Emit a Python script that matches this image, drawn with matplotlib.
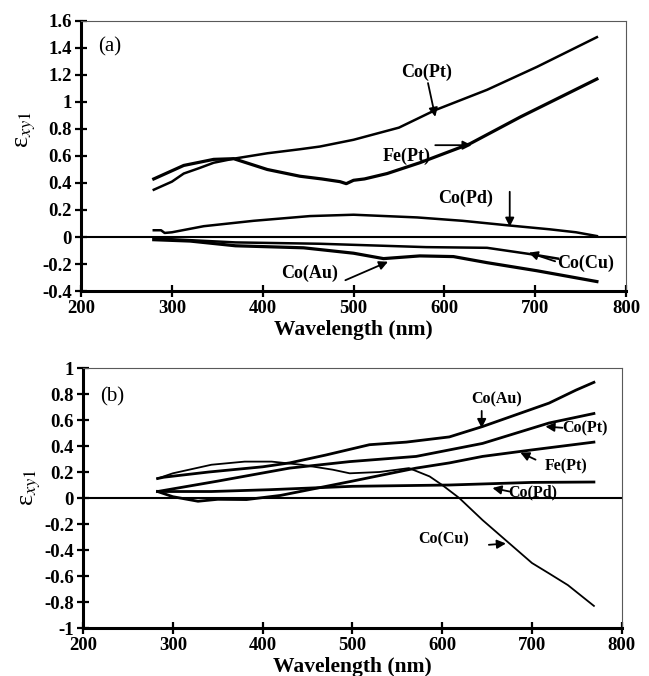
import numpy as np
import matplotlib
matplotlib.use('Agg')
import matplotlib.pyplot as plt
from matplotlib.ticker import FuncFormatter

plt.rcParams['font.family'] = ['Liberation Serif', 'DejaVu Serif']
plt.rcParams['mathtext.fontset'] = 'stix'
plt.rcParams['axes.unicode_minus'] = False

# ---- panel (a) data ----
wl_copt_a = [280, 300, 313, 330, 346, 368, 405, 441, 463, 500, 550, 590, 647, 702, 768]
copt_a = [0.35, 0.41, 0.47, 0.51, 0.55, 0.58, 0.62, 0.65, 0.67, 0.72, 0.81, 0.94, 1.09, 1.26, 1.48]

wl_fept_a = [280, 313, 346, 368, 405, 441, 465, 485, 492, 500, 512, 537, 573, 628, 684, 768]
fept_a = [0.43, 0.53, 0.575, 0.58, 0.50, 0.45, 0.43, 0.41, 0.395, 0.42, 0.43, 0.47, 0.55, 0.69, 0.89, 1.17]

wl_copd_a = [280, 288, 292, 300, 335, 390, 452, 500, 570, 620, 669, 716, 745, 768]
copd_a = [0.05, 0.05, 0.03, 0.035, 0.08, 0.12, 0.155, 0.165, 0.145, 0.12, 0.087, 0.057, 0.035, 0.007]

wl_coau_a = [280, 320, 370, 445, 500, 533, 573, 610, 647, 702, 768]
coau_a = [-0.02, -0.03, -0.065, -0.08, -0.12, -0.16, -0.14, -0.145, -0.19, -0.25, -0.33]

wl_cocu_a = [280, 370, 463, 580, 647, 698, 725]
cocu_a = [-0.01, -0.04, -0.05, -0.075, -0.08, -0.13, -0.16]

# ---- panel (b) data ----
wl_coau_b = [283, 290, 340, 400, 430, 470, 519, 560, 608, 645, 719, 749, 769]
coau_b = [0.15, 0.16, 0.2, 0.24, 0.27, 0.33, 0.41, 0.43, 0.47, 0.55, 0.73, 0.83, 0.89]

wl_copt_b = [283, 350, 430, 497, 571, 608, 645, 719, 769]
copt_b = [0.05, 0.13, 0.23, 0.28, 0.32, 0.37, 0.42, 0.577, 0.65]

wl_fept_b = [283, 300, 328, 350, 382, 420, 452, 500, 571, 608, 645, 700, 769]
fept_b = [0.05, 0.01, -0.025, -0.01, -0.012, 0.02, 0.064, 0.13, 0.23, 0.27, 0.32, 0.37, 0.43]

wl_copd_b = [283, 343, 408, 500, 608, 700, 769]
copd_b = [0.05, 0.05, 0.064, 0.09, 0.10, 0.12, 0.123]

wl_cocu_b = [283, 300, 343, 380, 410, 443, 478, 497, 530, 563, 586, 600, 619, 645, 675, 700, 719, 740, 769]
cocu_b = [0.15, 0.19, 0.256, 0.28, 0.28, 0.256, 0.218, 0.19, 0.2, 0.23, 0.166, 0.1, 0.0, -0.17, -0.35, -0.5, -0.58, -0.67, -0.83]


def fmt(v, p):
    v = round(v, 2)
    if abs(v) < 1e-9:
        return '0'
    return '%g' % v


def style_axes(ax, ymin, ymax):
    ax.set_xlim(200, 800)
    ax.set_ylim(ymin, ymax)
    ax.set_xticks(np.arange(200, 801, 100))
    ax.set_yticks(np.arange(ymin, ymax + 0.001, 0.2))
    ax.yaxis.set_major_formatter(FuncFormatter(fmt))
    ax.tick_params(direction='inout', length=9, width=1.6, labelsize=13.5, pad=2)
    for lab in ax.get_xticklabels() + ax.get_yticklabels():
        lab.set_fontweight('bold')
    ax.spines['left'].set_linewidth(2.2)
    ax.spines['bottom'].set_linewidth(2.2)
    for s in ['top', 'right']:
        ax.spines[s].set_linewidth(0.8)
        ax.spines[s].set_color('0.35')
    ax.axhline(0, color='k', lw=1.5, zorder=1)
    ax.set_xlabel('Wavelength (nm)', fontsize=15.5, fontweight='bold', labelpad=2)
    ax.set_ylabel(r'$\mathregular{\epsilon}_{xy1}$', fontsize=19)


def label(ax, text, xy, xytext, fs, tail=None):
    ax.text(xytext[0], xytext[1], text, fontsize=fs, fontweight='bold',
            ha='center', va='center')
    if tail is not None:
        ax.annotate('', xy=xy, xytext=tail,
                    arrowprops=dict(arrowstyle='-|>', color='k', lw=1.3,
                                    mutation_scale=13, shrinkA=0, shrinkB=0))


fig = plt.figure(figsize=(6.49, 6.76), dpi=100)

ax1 = fig.add_axes([0.125, 0.5695, 0.8395, 0.3995])
ax1.plot(wl_copt_a, copt_a, color='k', lw=1.8)
ax1.plot(wl_fept_a, fept_a, color='k', lw=2.3)
ax1.plot(wl_copd_a, copd_a, color='k', lw=1.8)
ax1.plot(wl_coau_a, coau_a, color='k', lw=2.3)
ax1.plot(wl_cocu_a, cocu_a, color='k', lw=1.8)
style_axes(ax1, -0.4, 1.6)
ax1.yaxis.set_label_coords(-0.08, 0.6)
ax1.text(232, 1.41, '(a)', fontsize=15, ha='center', va='center')
label(ax1, 'Co(Pt)', (590, 0.89), (580, 1.22), 13, tail=(582, 1.14))
label(ax1, 'Fe(Pt)', (630, 0.68), (559, 0.595), 13, tail=(590, 0.68))
label(ax1, 'Co(Pd)', (672, 0.076), (623, 0.287), 13, tail=(672, 0.335))
label(ax1, 'Co(Cu)', (693, -0.116), (756, -0.195), 13, tail=(722, -0.18))
label(ax1, 'Co(Au)', (538, -0.183), (452, -0.27), 13, tail=(491, -0.32))

ax2 = fig.add_axes([0.128, 0.071, 0.830, 0.3846])
ax2.plot(wl_coau_b, coau_b, color='k', lw=2.0)
ax2.plot(wl_copt_b, copt_b, color='k', lw=2.0)
ax2.plot(wl_fept_b, fept_b, color='k', lw=2.0)
ax2.plot(wl_copd_b, copd_b, color='k', lw=2.0)
ax2.plot(wl_cocu_b, cocu_b, color='k', lw=1.3)
style_axes(ax2, -1.0, 1.0)
ax2.yaxis.set_label_coords(-0.074, 0.54)
ax2.text(232, 0.78, '(b)', fontsize=15, ha='center', va='center')
label(ax2, 'Co(Au)', (644, 0.538), (661, 0.756), 11.5, tail=(644, 0.67))
label(ax2, 'Co(Pt)', (715, 0.55), (759, 0.538), 11.5, tail=(734, 0.54))
label(ax2, 'Fe(Pt)', (687, 0.35), (738, 0.243), 11.5, tail=(704, 0.295))
label(ax2, 'Co(Pd)', (656, 0.077), (701, 0.043), 11.5, tail=(675, 0.05))
label(ax2, 'Co(Cu)', (671, -0.35), (602, -0.32), 11.5, tail=(652, -0.36))

fig.savefig('out.png', dpi=100)
